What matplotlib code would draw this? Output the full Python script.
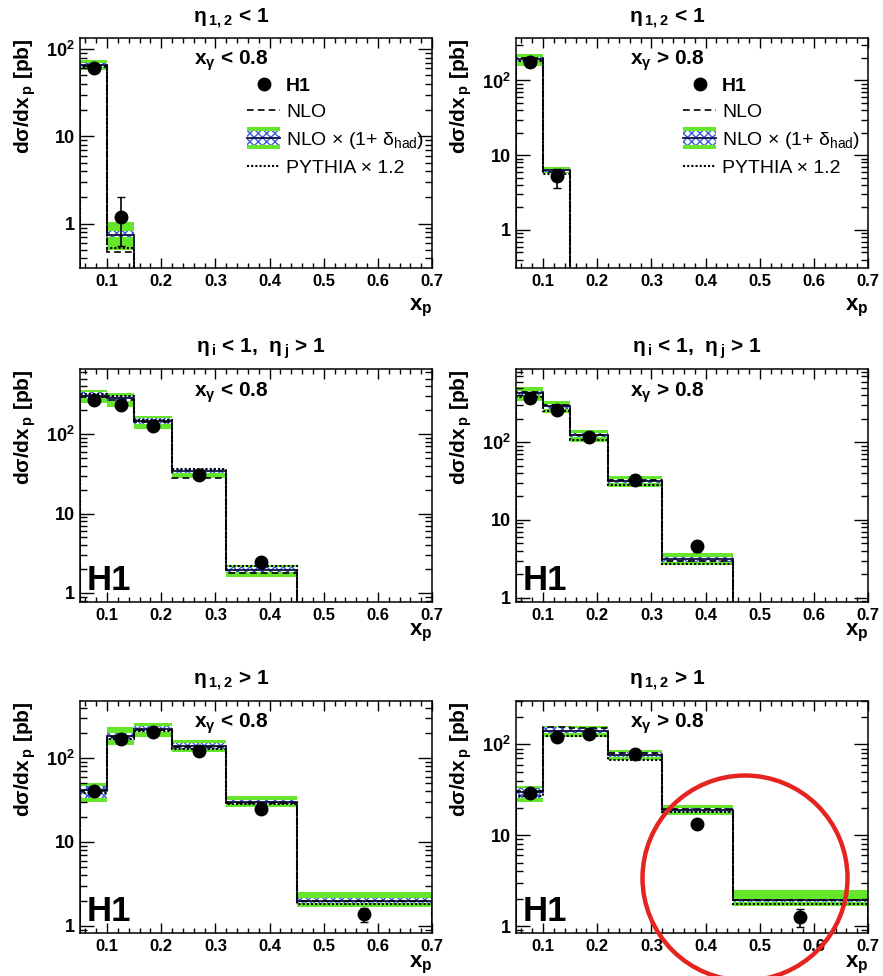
import numpy as np
import matplotlib
matplotlib.use("Agg")
import matplotlib.pyplot as plt
from matplotlib.patches import Rectangle, Patch, Ellipse
from matplotlib.lines import Line2D
from matplotlib.legend_handler import HandlerPatch
from matplotlib.ticker import FixedLocator, LogLocator, NullFormatter, MultipleLocator, FuncFormatter

plt.rcParams['font.family'] = ['Liberation Sans', 'DejaVu Sans']
plt.rcParams['font.weight'] = 'bold'
plt.rcParams['axes.labelweight'] = 'bold'
plt.rcParams['mathtext.default'] = 'regular'

# bin edges in x_p
edges = [0.05, 0.10, 0.15, 0.22, 0.32, 0.45, 0.70]

titles = ['η$_{\\,1,2}$ < 1', 'η$_{\\,1,2}$ < 1',
          'η$_{\\,i}$ < 1,  η$_{\\,j}$ > 1', 'η$_{\\,i}$ < 1,  η$_{\\,j}$ > 1',
          'η$_{\\,1,2}$ > 1', 'η$_{\\,1,2}$ > 1']
cuts = ['x$_{γ}$ < 0.8', 'x$_{γ}$ > 0.8'] * 3

# H1 data points and errors (pb)
h1 = [[60, 1.2], [174, 5.3],
      [268, 232, 126, 31, 2.45], [370, 258, 116, 33, 4.6],
      [41, 168, 204, 121, 24.7, 1.4], [29, 119, 129, 78, 13.2, 1.26]]
h1_lo = [[5, 0.65], [12, 1.6],
         [20, 18, 10, 3, 0.3], [25, 18, 9, 2.5, 0.7],
         [3, 12, 14, 9, 2, 0.28], [2.5, 9, 10, 6, 1.2, 0.27]]
h1_hi = [[6, 0.8], [12, 1.3],
         [20, 18, 10, 3, 0.3], [25, 18, 9, 2.5, 0.8],
         [3, 12, 14, 9, 2, 0.25], [2.5, 9, 10, 6, 1.2, 0.3]]

# theory
nlo = [[64, 0.47], [200, 6.0],
       [290, 270, 140, 28, 1.78], [440, 300, 125, 33, 3.0],
       [40, 178, 215, 135, 29, 1.95], [31, 154, 150, 80, 19.5, 1.95]]
nlohad = [[66, 0.75], [195, 6.3],
          [305, 283, 146, 34, 1.95], [428, 290, 123, 32, 3.1],
          [41.5, 183, 221, 139, 30, 2.0], [29.6, 142, 142, 77, 18.8, 1.93]]
scale_lo = [[62, 0.70], [183, 5.9],
            [282, 262, 135, 32, 1.85], [400, 270, 115, 30, 2.85],
            [33, 165, 205, 128, 28, 1.85], [26, 135, 135, 73, 18, 1.85]]
scale_hi = [[70, 0.82], [208, 6.6],
            [335, 305, 158, 36.5, 2.1], [460, 310, 132, 34, 3.3],
            [46, 200, 240, 150, 32, 2.15], [33, 155, 152, 82, 19.8, 2.0]]
tot_lo = [[57, 0.50], [158, 5.75],
          [245, 218, 116, 28, 1.59], [338, 237, 100, 26.3, 2.67],
          [30, 143, 178, 117, 26, 1.68], [23, 119, 119, 67, 16.6, 1.66]]
tot_hi = [[75, 1.03], [229, 6.9],
          [357, 330, 168, 36, 2.25], [515, 338, 143, 36.5, 3.7],
          [50, 233, 261, 163, 35, 2.54], [34.7, 158, 158, 86, 21.4, 2.49]]
pythia = [[62, 0.53], [185, 5.6],
          [320, 300, 150, 36, 2.2], [380, 250, 105, 28, 2.75],
          [38, 170, 210, 130, 28, 1.8], [27, 125, 125, 68, 18, 1.75]]

ylims = [(0.31, 134), (0.31, 370), (0.77, 660), (0.88, 870), (0.82, 480), (0.84, 300)]

green = '#66e62a'
blue = '#3a5ce0'

W, H = 883, 976
fig = plt.figure(figsize=(W / 100, H / 100), dpi=100)
cols = [80, 516]
rows = [(38, 268), (369, 602), (701, 933)]
xlab_y = [-0.125, -0.085, -0.09]
title_x = [0.43, 0.43, 0.514, 0.514, 0.43, 0.43]


def tall(legend, orig_handle, xdescent, ydescent, width, height, fontsize):
    return Rectangle((-xdescent, -ydescent - 0.3 * height), width, 1.6 * height)


axes = []
for i in range(6):
    r, c = divmod(i, 2)
    top, bot = rows[r]
    ax = fig.add_axes([cols[c] / W, 1 - bot / H, 352 / W, (bot - top) / H])
    axes.append(ax)
    n = len(h1[i])
    e = np.array(edges[:n + 1])
    xc = (e[:-1] + e[1:]) / 2

    ax.stairs(tot_hi[i], e, baseline=tot_lo[i], fill=True, color=green, lw=0, zorder=1)
    ax.stairs(scale_hi[i], e, baseline=scale_lo[i], fill=True, facecolor='white',
              edgecolor=blue, hatch='xxxx', lw=0, zorder=2)
    ax.stairs(nlohad[i], e, baseline=1e-3, color='#101040', lw=1.3, zorder=3)
    ax.stairs(nlo[i], e, baseline=1e-3, color='black', ls=(0, (4, 2.5)), lw=1.2, zorder=3)
    ax.stairs(pythia[i], e, baseline=1e-3, color='black', ls=(0, (1, 1)), lw=1.5, zorder=3)
    ax.errorbar(xc, h1[i], yerr=[h1_lo[i], h1_hi[i]], fmt='o', color='black', ms=9,
                capsize=3, elinewidth=1.2, zorder=5)

    ax.set_yscale('log')
    ax.set_xlim(0.05, 0.7)
    ax.set_ylim(*ylims[i])
    ax.xaxis.set_major_locator(MultipleLocator(0.1))
    ax.xaxis.set_minor_locator(MultipleLocator(0.02))
    ax.xaxis.set_major_formatter(FuncFormatter(lambda v, p: f'{v:.1f}'))
    ax.yaxis.set_major_locator(FixedLocator([1, 10, 100]))
    ax.yaxis.set_minor_locator(LogLocator(base=10, subs=np.arange(2, 10)))
    ax.yaxis.set_minor_formatter(NullFormatter())
    ax.yaxis.set_major_formatter(FuncFormatter(
        lambda v, p: {1: '1', 10: '10', 100: '10$^2$'}.get(int(round(v)), '')))
    ax.tick_params(which='both', direction='in', top=True, right=True, width=1)
    ax.tick_params(axis='x', which='major', length=7, labelsize=12, pad=4)
    ax.tick_params(axis='x', which='minor', length=3.5)
    ax.tick_params(axis='y', which='major', length=10, labelsize=13)
    ax.tick_params(axis='y', which='minor', length=5)
    for s in ax.spines.values():
        s.set_linewidth(1.1)

    ax.set_ylabel('dσ/dx$_{\\,p}$ [pb]', loc='top', fontsize=15)
    ax.yaxis.set_label_coords(-0.12, 1.0)
    ax.set_xlabel('x$_p$', loc='right', fontsize=16)
    ax.xaxis.set_label_coords(1.0, xlab_y[r])
    ax.xaxis.label.set_va('top')

    ax.text(title_x[i], 1.085, titles[i], transform=ax.transAxes, ha='center',
            va='center', fontsize=15)
    ax.text(0.43, 0.90, cuts[i], transform=ax.transAxes, ha='center', va='center',
            fontsize=15)
    if r > 0:
        ax.text(0.02, 0.02, 'H1', transform=ax.transAxes, ha='left', va='bottom',
                fontsize=25, fontweight='heavy', zorder=6)
    else:
        h_h1 = Line2D([], [], marker='o', ls='none', color='black', ms=9)
        h_nlo = Line2D([], [], color='black', ls=(0, (4, 2.5)), lw=1.2)
        g = Patch(facecolor=green, lw=0)
        hb = Patch(facecolor='white', edgecolor=blue, hatch='xxxx', lw=0)
        hl = Line2D([], [], color='#101040', lw=1.3)
        h_py = Line2D([], [], color='black', ls=(0, (1, 1)), lw=1.5)
        leg = ax.legend([h_h1, h_nlo, (g, hb, hl), h_py],
                        ['H1', 'NLO', 'NLO × (1+ δ$_{had}$)', 'PYTHIA × 1.2'],
                        handler_map={g: HandlerPatch(patch_func=tall)},
                        loc='upper left', bbox_to_anchor=(0.475, 0.83), frameon=False,
                        prop={'weight': 'normal', 'size': 14}, handlelength=1.7,
                        handletextpad=0.3, labelspacing=0.45, borderpad=0,
                        borderaxespad=0)
        leg.get_texts()[0].set_fontweight('bold')

# red circle drawn on the original figure
fig.add_artist(Ellipse((745 / W, 1 - 878 / H), 205 / W, 205 / H, transform=fig.transFigure,
                       fill=False, ec='#e52420', lw=3.2))

fig.savefig('out.png', dpi=100)
